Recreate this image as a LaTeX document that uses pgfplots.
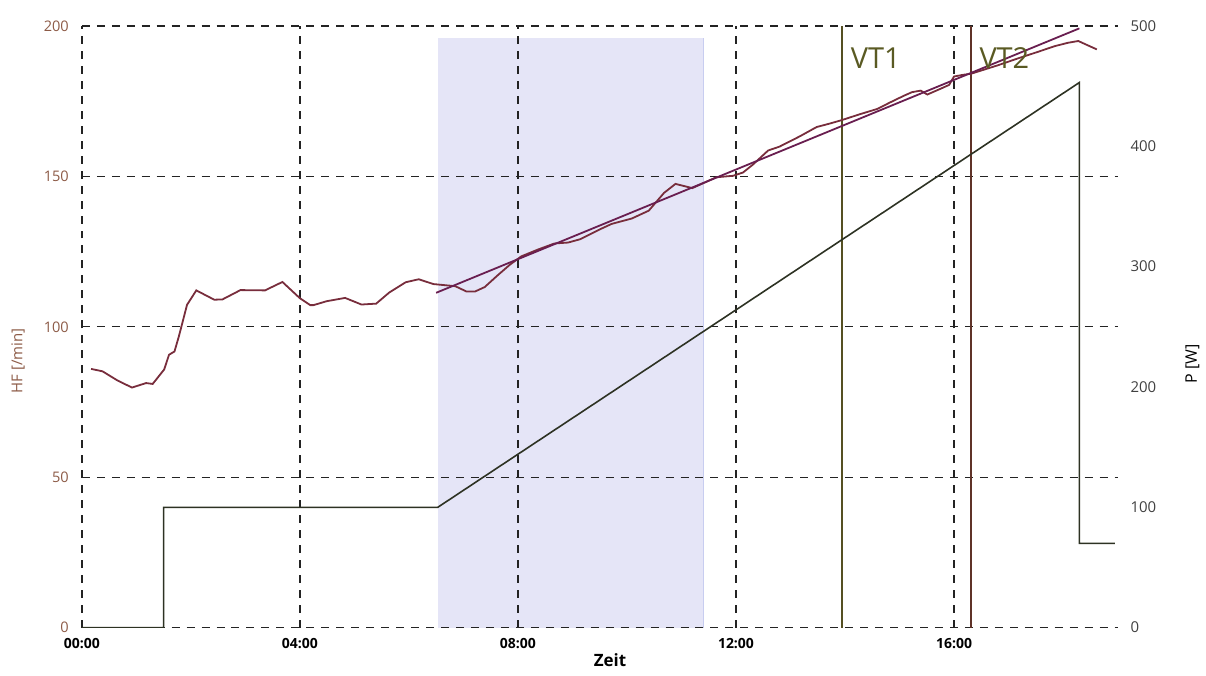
\documentclass[border=0pt]{standalone}
\usepackage{fontspec}
\setmainfont{Open Sans}
\usepackage{pgfplots}
\pgfplotsset{compat=1.18}
\definecolor{hfc}{RGB}{120,45,60}
\definecolor{regc}{RGB}{105,30,80}
\definecolor{pc}{RGB}{45,50,35}
\definecolor{vtone}{RGB}{85,80,35}
\definecolor{vttwo}{RGB}{95,50,40}
\definecolor{vttext}{RGB}{90,90,35}
\definecolor{lav}{RGB}{229,229,247}
\definecolor{lavedge}{RGB}{200,205,240}
\definecolor{hflab}{RGB}{140,90,70}
\definecolor{gridc}{RGB}{35,35,35}
\begin{document}
\begin{tikzpicture}
\begin{axis}[
  set layers,
  at={(0,0)}, anchor=south west,
  scale only axis, width=519pt, height=301.5pt,
  xmin=0, xmax=19, ymin=0, ymax=200,
  axis x line*=bottom, axis y line*=left,
  axis line style={draw=none},
  major tick length=0pt,
  xtick={0,4,8,12,16},
  xticklabels={00:00,04:00,08:00,12:00,16:00},
  ytick={0,50,100,150,200},
  grid=major,
  major grid style={gridc, line width=0.7pt, dash pattern=on 4pt off 3.5pt},
  xticklabel style={font=\bfseries\fontsize{7}{8}\selectfont, yshift=-2pt},
  yticklabel style={font=\fontsize{7.3}{8}\selectfont, text=hflab, xshift=-3pt},
  /pgf/number format/assume math mode=true,
]
\addplot[fill=lav, draw=none, on layer=axis background] coordinates {(6.53,0) (11.41,0) (11.41,196) (6.53,196)} -- cycle;
\addplot[lavedge, line width=0.6pt, on layer=axis background] coordinates {(11.41,0) (11.41,196)};
\addplot[vtone, line width=0.85pt] coordinates {(13.94,0) (13.94,200)};
\addplot[vttwo, line width=0.85pt] coordinates {(16.31,0) (16.31,200)};
\addplot[hfc, line width=0.9pt] coordinates {
(0.17,86)(0.38,85.2)(0.65,82.2)(0.92,79.8)(1.18,81.3)(1.30,81.0)(1.51,85.8)(1.60,90.7)(1.70,91.8)(1.78,96.8)(1.93,107.3)(2.10,112.1)(2.43,109.0)(2.58,109.1)(2.91,112.2)(3.36,112.1)(3.68,114.9)(4.00,109.5)(4.19,107.2)(4.25,107.2)(4.49,108.5)(4.83,109.6)(5.13,107.4)(5.40,107.7)(5.64,111.4)(5.94,114.8)(6.18,115.8)(6.45,114.2)(6.85,113.5)(7.06,111.7)(7.21,111.7)(7.39,113.2)(7.64,117.3)(7.85,120.6)(8.06,123.4)(8.37,125.7)(8.67,127.7)(8.92,128.0)(9.14,129.1)(9.54,132.7)(9.72,134.2)(10.09,136)(10.40,138.6)(10.68,144.5)(10.89,147.5)(11.20,146.1)(11.64,149.7)(11.95,150.2)(12.13,151.3)(12.31,153.9)(12.59,158.6)(12.80,159.9)(13.17,163.3)(13.48,166.4)(13.73,167.6)(13.94,168.7)(14.28,170.7)(14.59,172.4)(14.83,174.6)(15.08,176.8)(15.23,178.0)(15.39,178.5)(15.51,177.2)(15.75,179.1)(15.91,180.4)(16.00,183.2)(16.18,183.8)(16.31,184.1)(16.80,186.9)(17.17,189.2)(17.54,191.4)(17.85,193.3)(18.09,194.4)(18.28,195.0)(18.40,194.0)(18.62,192.2)
};
\addplot[regc, line width=0.9pt] coordinates {(6.5,111.3) (18.3,199.2)};
\node[anchor=base west, text=vttext, font=\fontsize{14.5}{16}\selectfont, inner sep=0pt] at (axis cs:14.1,186) {VT1};
\node[anchor=base west, text=vttext, font=\fontsize{14.5}{16}\selectfont, inner sep=0pt] at (axis cs:16.46,186) {VT2};
\end{axis}
\begin{axis}[
  at={(0,0)}, anchor=south west,
  scale only axis, width=519pt, height=301.5pt,
  xmin=0, xmax=19, ymin=0, ymax=500,
  axis x line=none, axis y line*=right,
  axis line style={draw=none},
  major tick length=0pt,
  ytick={0,100,200,300,400,500},
  yticklabel style={font=\fontsize{7.5}{8}\selectfont, text=black!75, xshift=3pt},
  /pgf/number format/assume math mode=true,
]
\addplot[pc, line width=0.8pt] coordinates {(0,0) (1.5,0) (1.5,100) (6.53,100) (18.3,453) (18.3,70) (18.95,70)};
\end{axis}
\node[font=\bfseries\fontsize{8.5}{10}\selectfont] at (264.7pt,-16.5pt) {Zeit};
\node[rotate=90, text=hflab, font=\fontsize{7.5}{9}\selectfont] at (-32pt,133.6pt) {HF [/min]};
\node[rotate=90, font=\fontsize{8}{9}\selectfont] at (556.5pt,132pt) {P [W]};
\path (-41pt,-24pt) rectangle (562pt,314.5pt);
\end{tikzpicture}
\end{document}
